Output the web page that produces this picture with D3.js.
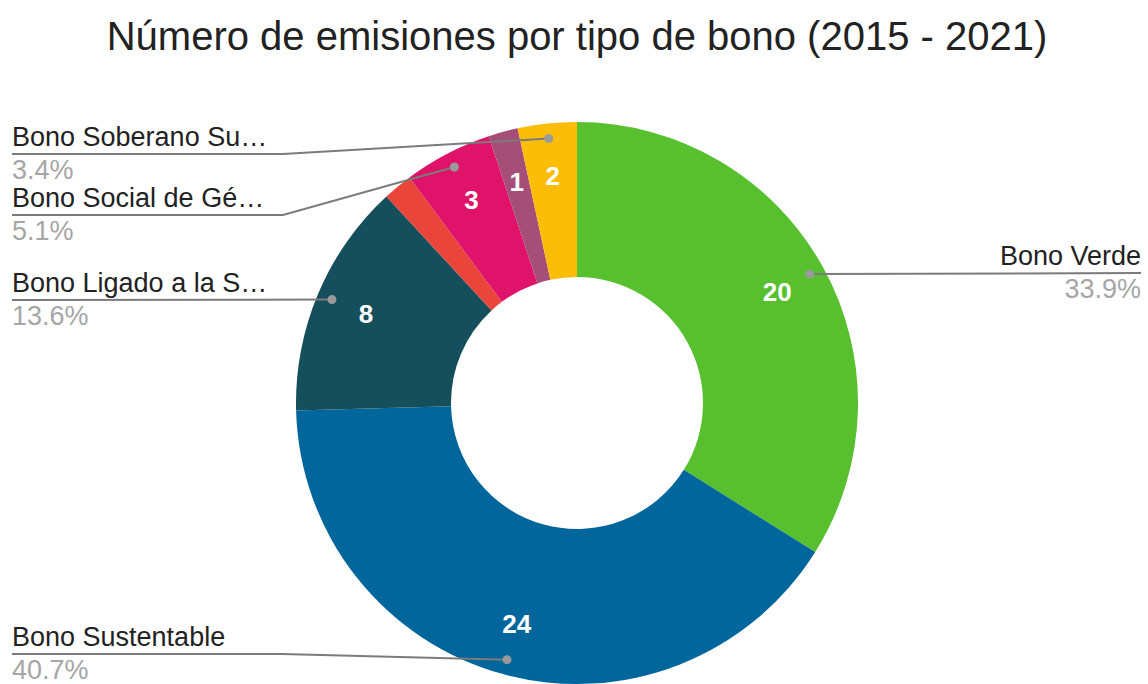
<!DOCTYPE html>
<html>
<head>
<meta charset="utf-8">
<script src="https://cdn.jsdelivr.net/npm/d3@7"></script>
<style>
  body { margin: 0; background: #fff; }
  svg { font-family: "Liberation Sans", Arial, sans-serif; }
</style>
</head>
<body>
<div id="chart"></div>
<script>
const categories = ["Bono Verde", "Bono Sustentable", "Bono Ligado a la S…", "Bono Social", "Bono Social de Gé…", "Bono Azul", "Bono Soberano Su…"];
const values = [20, 24, 8, 1, 3, 1, 2];
const colors = ["#58bf2e", "#00669b", "#164f5c", "#e9453a", "#df1369", "#a44e78", "#fbbd05"];
// which slices get an outside label / an inside value (google hides some)
const showLabel = [true, true, true, false, true, false, true];
const showValue = [true, true, true, false, true, true, true];

const W = 1148, H = 684;
const cx = 577, cy = 403;
const outerR = 281, innerR = 126;
const dotR = 266, valueR = 229;

// layout of the outside labels: side, text baseline, elbow x
const labelLayout = {
    "Bono Verde": {side: "right", y: 265},
    "Bono Sustentable": {side: "left", y: 646, elbow: 282},
    "Bono Ligado a la S…": {side: "left", y: 292, elbow: null},
    "Bono Social de Gé…": {side: "left", y: 207, elbow: 283},
    "Bono Soberano Su…": {side: "left", y: 146, elbow: 283}
};

const svg = d3.select("#chart").append("svg")
    .attr("width", W)
    .attr("height", H)
    .attr("viewBox", `0 0 ${W} ${H}`);

svg.append("text")
    .attr("x", cx)
    .attr("y", 50)
    .attr("text-anchor", "middle")
    .style("font-size", "40px")
    .style("fill", "#222")
    .text("Número de emisiones por tipo de bono (2015 - 2021)");

const total = d3.sum(values);
const data = categories.map((c, i) => ({name: c, value: values[i], color: colors[i], show: showLabel[i], showVal: showValue[i]}));

const pie = d3.pie().value(d => d.value).sort(null);
const arcs = pie(data);
const arc = d3.arc().innerRadius(innerR).outerRadius(outerR);

const g = svg.append("g").attr("transform", `translate(${cx},${cy})`);

g.selectAll("path.slice")
    .data(arcs)
    .enter().append("path")
    .attr("class", "slice")
    .attr("d", arc)
    .style("fill", d => d.data.color);

// value labels inside the ring
const valueArc = d3.arc().innerRadius(valueR).outerRadius(valueR);
g.selectAll("text.value")
    .data(arcs.filter(d => d.data.showVal))
    .enter().append("text")
    .attr("class", "value")
    .attr("x", d => valueArc.centroid(d)[0])
    .attr("y", d => valueArc.centroid(d)[1])
    .attr("text-anchor", "middle")
    .attr("dy", "0.36em")
    .style("font-size", "26px")
    .style("font-weight", "bold")
    .style("fill", "#fff")
    .text(d => d.data.value);

// outside labels with leader lines
const dotArc = d3.arc().innerRadius(dotR).outerRadius(dotR);
const labelled = arcs.filter(d => d.data.show);
const pct = d3.format(".1%");

labelled.forEach(d => {
    const lay = labelLayout[d.data.name];
    const [dx, dy] = dotArc.centroid(d);
    const px = cx + dx, py = cy + dy;
    const lineY = lay.y + 8;
    let pts;
    let tx, anchor;
    if (lay.side === "right") {
        tx = 1141;
        anchor = "end";
        pts = [[px, py], [tx, lineY]];
    } else {
        tx = 12;
        anchor = "start";
        pts = lay.elbow ? [[tx, lineY], [lay.elbow, lineY], [px, py]] : [[tx, lineY], [px, py]];
    }

    svg.append("path")
        .attr("d", d3.line()(pts))
        .style("fill", "none")
        .style("stroke", "#7b7b7b")
        .style("stroke-width", 2);

    svg.append("circle")
        .attr("cx", px)
        .attr("cy", py)
        .attr("r", 4.5)
        .style("fill", "#9a9a9a");

    svg.append("text")
        .attr("x", tx)
        .attr("y", lay.y)
        .attr("text-anchor", anchor)
        .style("font-size", "27px")
        .style("fill", "#222")
        .text(d.data.name);

    svg.append("text")
        .attr("x", tx)
        .attr("y", lay.y + 33)
        .attr("text-anchor", anchor)
        .style("font-size", "27px")
        .style("fill", "#a6a6a6")
        .text(pct(d.data.value / total));
});
</script>
</body>
</html>
